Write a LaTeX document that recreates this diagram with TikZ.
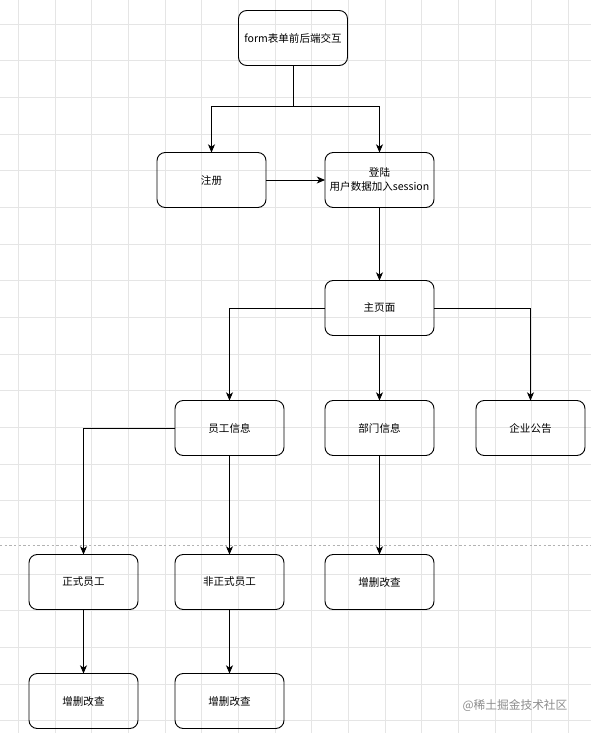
\documentclass[tikz,border=0pt]{standalone}
\usepackage{fontspec}
\setmainfont{Noto Sans CJK SC}
\usetikzlibrary{positioning,arrows.meta}

\begin{document}
\begin{tikzpicture}[
        node distance=1.95cm and 1.23cm,
        box/.style={
            rectangle,
            draw,
            line width=0.8pt,
            rounded corners=7pt,
            minimum width=3.27cm,
            minimum height=1.65cm,
            inner sep=0pt,
            outer sep=0pt,
            align=center,
            font=\fontsize{9}{12}\selectfont
        },
        line/.style={draw, line width=0.8pt, -{Stealth[length=7pt,width=6pt,inset=2pt]}},
        gridline/.style={draw=black!10, line width=0.35pt}
    ]
        % -- Tło (Background) --
        \useasboundingbox (0,0) rectangle (17.73,-21.99);
        \begin{scope}
            \clip (0,0) rectangle (17.73,-21.99);
            \fill[white] (0,0) rectangle (17.73,-21.99);
            \draw[gridline, xshift=0.55cm, yshift=0.38cm, step=1.1cm] (-2,-24) grid (19,2);
            \draw[black!30, dash pattern=on 2pt off 2pt, line width=0.5pt] (0,-16.35) -- (17.73,-16.35);
        \end{scope}

        % -- Węzły (Nodes) --

        % Góra
        \node [box] (form) at (8.79,-1.14) {form表单前后端交互};
        \node [box] (login) at (11.385,-5.4) {登陆\\用户数据加入session};
        \node [box, left=1.77cm of login] (reg) {注册};

        % Środek
        \node [box, below=2.19cm of login] (home) {主页面};
        \node [box, below=of home] (dept) {部门信息};
        \node [box, left=of dept] (staff) {员工信息};
        \node [box, right=1.26cm of dept] (notice) {企业公告};

        % Dół
        \node [box, below=2.97cm of staff] (temp) {非正式员工};
        \node [box, left=1.11cm of temp] (formal) {正式员工};
        \node [box, below=2.97cm of dept] (crud_dept) {增删改查};
        \node [box, below=1.92cm of formal] (crud_formal) {增删改查};
        \node [box, below=1.92cm of temp] (crud_temp) {增删改查};

        % Znak wodny
        \node [text=black!45, font=\fontsize{10}{12}\selectfont] (mark) at (15.45,-21.18) {@稀土掘金技术社区};

        % -- Ścieżki (Paths) --

        % Od formularza
        \coordinate [below=1.23cm of form.south] (split);
        \path [line] (form.south) -- (split) -| (reg.north);
        \path [line] (split) -| (login.north);
        \path [line] (reg) -- (login);

        % Strona główna
        \path [line] (login) -- (home);
        \path [line] (home.west) -| (staff.north);
        \path [line] (home) -- (dept);
        \path [line] (home.east) -| (notice.north);

        % Pracownicy
        \path [line] (staff.west) -| (formal.north);
        \path [line] (staff) -- (temp);
        \path [line] (dept) -- (crud_dept);
        \path [line] (formal) -- (crud_formal);
        \path [line] (temp) -- (crud_temp);

    \end{tikzpicture}
\end{document}
